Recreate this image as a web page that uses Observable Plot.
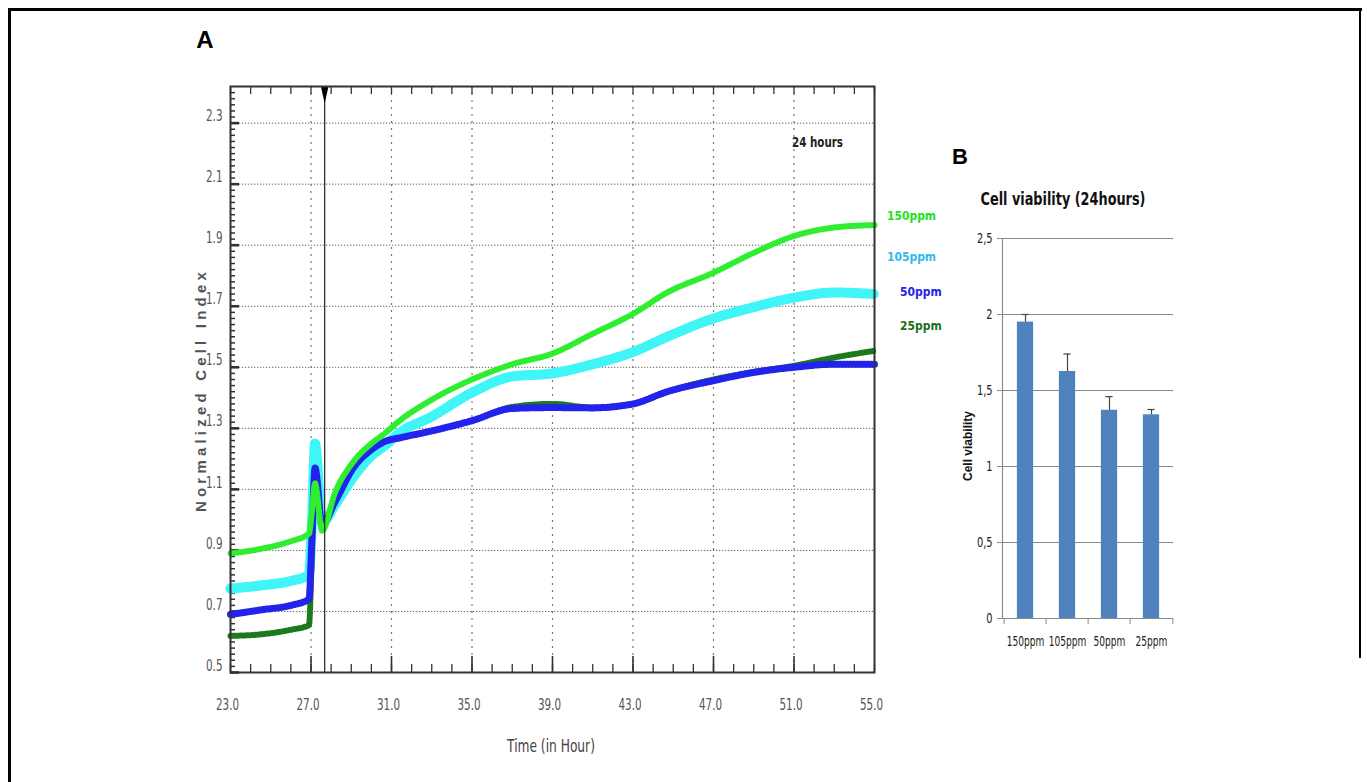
<!DOCTYPE html>
<html>
<head>
<meta charset="utf-8">
<script src="https://cdn.jsdelivr.net/npm/d3@7"></script>
<script src="https://cdn.jsdelivr.net/npm/@observablehq/plot@0.6"></script>
<style>
  body { margin: 0; background: #fff; }
  #root { position: relative; width: 1367px; height: 782px; overflow: hidden; background: #fff;
          font-family: "Liberation Sans", Arial, sans-serif; }
  .lbl { position: absolute; white-space: nowrap; }
  svg.plotsvg { position: absolute; overflow: visible; }
</style>
</head>
<body>
<div id="root"></div>
<script>
// ---------------- Panel A data (Normalized Cell Index vs time) ----------------
const seriesNames = ["150ppm", "105ppm", "50ppm", "25ppm"];
const timeHours = [23.0, 24.5, 26.0, 26.9, 27.05, 27.2, 27.55, 28.2, 29.1, 30.0, 30.6, 31.5, 32.9,
                   35.0, 37.0, 39.0, 41.0, 43.0, 44.7, 47.0, 49.0, 51.0, 53.0, 55.0];
const index150 = [0.89, 0.905, 0.93, 0.955, 1.03, 1.12, 0.965, 1.09, 1.19, 1.25, 1.28, 1.33, 1.39,
                  1.46, 1.51, 1.545, 1.61, 1.675, 1.745, 1.81, 1.875, 1.93, 1.958, 1.966];
const index105 = [0.775, 0.785, 0.80, 0.82, 1.0, 1.25, 0.99, 1.05, 1.14, 1.21, 1.24, 1.29, 1.335,
                  1.417, 1.47, 1.48, 1.51, 1.55, 1.60, 1.66, 1.697, 1.728, 1.745, 1.74];
const index50  = [0.69, 0.705, 0.72, 0.74, 0.95, 1.17, 0.985, 1.06, 1.17, 1.23, 1.255, 1.27, 1.29,
                  1.325, 1.365, 1.368, 1.367, 1.38, 1.42, 1.456, 1.483, 1.50, 1.51, 1.51];
const index25  = [0.62, 0.625, 0.64, 0.655, 0.9, 1.15, 0.985, 1.06, 1.17, 1.23, 1.255, 1.27, 1.29,
                  1.325, 1.37, 1.38, 1.368, 1.38, 1.42, 1.46, 1.485, 1.505, 1.532, 1.554];
const treatmentTime = [27.68];
const xTickLabelsA = [23, 27, 31, 35, 39, 43, 47, 51, 55];
const yTickLabelsA = [0.5, 0.7, 0.9, 1.1, 1.3, 1.5, 1.7, 1.9, 2.1, 2.3];

// ---------------- Panel B data (Cell viability, 24 hours) ----------------
const doses = ["150ppm", "105ppm", "50ppm", "25ppm"];
const viability = [1.95, 1.625, 1.37, 1.34];
const viabilityErr = [0.05, 0.115, 0.09, 0.035];
const yTickLabelsB = [0, 0.5, 1, 1.5, 2, 2.5];

// ---------------- styles ----------------
const lineColors = {"150ppm": "#2fee2f", "105ppm": "#3ff5f5", "50ppm": "#2323ee", "25ppm": "#1c7a1c"};
const legendColors = {"150ppm": "#22e022", "105ppm": "#33b8ee", "50ppm": "#2222ee", "25ppm": "#1b6e1b"};
const lineWidths = {"150ppm": 2.5, "105ppm": 7, "50ppm": 3, "25ppm": 2.5};
const fuzzWidths = {"150ppm": 6, "105ppm": 10, "50ppm": 7, "25ppm": 6};
const drawOrder = ["105ppm", "25ppm", "50ppm", "150ppm"];

const valuesBySeries = {"150ppm": index150, "105ppm": index105, "50ppm": index50, "25ppm": index25};
const rowsA = [];
for (const s of seriesNames) timeHours.forEach((t, j) => rowsA.push({series: s, t, v: valuesBySeries[s][j]}));

const root = document.getElementById("root");
const plotFont = '"Liberation Sans Narrow", "DejaVu Sans Condensed", sans-serif';

function squeeze(svg, selector, sx) {
  svg.querySelectorAll(selector).forEach(t => {
    const tr = t.getAttribute("transform");
    if (tr) t.setAttribute("transform", tr + ` scale(${sx},1)`);
  });
}

// ---------- Panel A plot ----------
const mL = 230, mR = 60, mT = 86, mB = 110, W = 934, H = 782;
const fw = W - mL - mR, fh = H - mT - mB;
const xMinor = d3.range(23, 55.001, 1);
const xMajorInner = xTickLabelsA.slice(1, -1);
const yMinor = d3.range(0.5, 2.42, 0.02);

const narrowTri = {
  draw(ctx) { ctx.moveTo(-3.8, 0); ctx.lineTo(3.8, 0); ctx.lineTo(0, 17); ctx.closePath(); }
};

const lineMarks = [];
for (const s of drawOrder) {
  const data = rowsA.filter(d => d.series === s);
  lineMarks.push(Plot.line(data, {x: "t", y: "v", stroke: lineColors[s], strokeWidth: lineWidths[s], curve: "monotone-x"}));
  lineMarks.push(Plot.line(data, {x: "t", y: "v", stroke: lineColors[s], strokeWidth: fuzzWidths[s],
                                   strokeDasharray: "1.2,2.2", curve: "monotone-x"}));
}

const plotA = Plot.plot({
  width: W, height: H, marginLeft: mL, marginRight: mR, marginTop: mT, marginBottom: mB,
  style: {background: "transparent", overflow: "visible", maxWidth: "none", fontFamily: plotFont},
  x: {domain: [23, 55], label: null},
  y: {domain: [0.5, 2.42], label: null},
  marks: [
    Plot.gridY(yTickLabelsA.slice(1), {stroke: "#555", strokeOpacity: 0.9, strokeDasharray: "1.3,1.7", strokeWidth: 1}),
    Plot.gridX(xMajorInner, {stroke: "#666", strokeOpacity: 0.9, strokeDasharray: "2,5", strokeWidth: 1.2}),
    Plot.ruleX(xMinor, {x: d => d, insetTop: fh - 8, stroke: "#333", strokeWidth: 1.3}),
    Plot.ruleX(xMajorInner, {x: d => d, insetTop: fh - 16, stroke: "#333", strokeWidth: 1.6}),
    Plot.ruleX(xMinor, {x: d => d, insetBottom: fh - 8, stroke: "#333", strokeWidth: 1.3}),
    Plot.ruleY(yMinor, {y: d => d, insetRight: fw - 5, stroke: "#333", strokeWidth: 1.5}),
    Plot.ruleY(yTickLabelsA, {y: d => d, insetRight: fw - 9, stroke: "#333", strokeWidth: 2.6}),
    ...lineMarks,
    Plot.ruleX(treatmentTime, {x: d => d, stroke: "#222", strokeWidth: 1.2}),
    Plot.dot(treatmentTime, {x: d => d, frameAnchor: "top", symbol: narrowTri, fill: "#000", stroke: "none"}),
    Plot.frame({stroke: "#333", strokeWidth: 2}),
    Plot.axisX({ticks: xTickLabelsA, tickFormat: d => d.toFixed(1), tickSize: 0, tickPadding: 26,
                fontSize: 16, fill: "#555", dx: -3}),
    Plot.axisY({ticks: yTickLabelsA, tickFormat: d => d.toFixed(1), tickSize: 0, tickPadding: 8,
                fontSize: 16, fill: "#555", dy: -7})
  ]
});
plotA.classList.add("plotsvg");
plotA.style.left = "0px"; plotA.style.top = "0px";
root.appendChild(plotA);
squeeze(plotA, 'g[aria-label$="tick label"] text', 0.72);

// ---------- Panel B plot ----------
const bW = 260, bH = 470, bL = 72, bR = 17, bT = 38, bB = 52;
const bw = (bW - bL - bR) / doses.length;
const rowsB = doses.map((d, i) => ({dose: d, v: viability[i], up: viability[i] + viabilityErr[i]}));
const bfh = bH - bT - bB;
const plotB = Plot.plot({
  width: bW, height: bH, marginLeft: bL, marginRight: bR, marginTop: bT, marginBottom: bB,
  style: {background: "transparent", overflow: "visible", maxWidth: "none", fontFamily: plotFont},
  x: {domain: doses, padding: 0, label: null},
  y: {domain: [0, 2.5], label: null},
  marks: [
    Plot.gridY(yTickLabelsB.slice(1), {stroke: "#8a8a8a", strokeOpacity: 1, strokeWidth: 1}),
    Plot.barY(rowsB, {x: "dose", y: "v", fill: "#4f81bd", insetLeft: (bw - 17) / 2, insetRight: (bw - 17) / 2}),
    Plot.ruleX(rowsB, {x: "dose", y1: "v", y2: "up", stroke: "#444", strokeWidth: 1.2}),
    Plot.tickY(rowsB, {x: "dose", y: "up", inset: (bw - 8) / 2, stroke: "#444", strokeWidth: 1.2}),
    Plot.ruleY([0], {stroke: "#8a8a8a", strokeWidth: 1.2}),
    Plot.frame({anchor: "left", stroke: "#8a8a8a", strokeWidth: 1.2}),
    Plot.ruleX(doses, {x: d => d, dx: -bw / 2, insetTop: bfh, insetBottom: -6, stroke: "#8a8a8a"}),
    Plot.ruleX(doses.slice(-1), {x: d => d, dx: bw / 2, insetTop: bfh, insetBottom: -6, stroke: "#8a8a8a"}),
    Plot.axisY({ticks: yTickLabelsB, tickFormat: d => String(d).replace(".", ","), tickSize: 5, tickPadding: 5,
                stroke: "#8a8a8a", fill: "#222", fontSize: 14}),
    Plot.axisX({tickSize: 0, tickPadding: 18, fill: "#222", fontSize: 14})
  ]
});
plotB.classList.add("plotsvg");
plotB.style.left = "930px"; plotB.style.top = "200px";
root.appendChild(plotB);
squeeze(plotB, 'g[aria-label="x-axis tick label"] text', 0.72);
squeeze(plotB, 'g[aria-label="y-axis tick label"] text', 0.78);

// ---------- HTML text ----------
function label(text, cx, cy, css, extra) {
  const el = document.createElement("div");
  el.className = "lbl";
  el.textContent = text;
  Object.assign(el.style, css);
  el.style.left = cx + "px"; el.style.top = cy + "px";
  el.style.transform = "translate(-50%,-50%)" + (extra ? " " + extra : "");
  root.appendChild(el);
  return el;
}
function labelLeft(text, x, cy, css, sx) {
  const el = document.createElement("div");
  el.className = "lbl";
  el.textContent = text;
  Object.assign(el.style, css);
  el.style.left = x + "px"; el.style.top = cy + "px";
  el.style.transformOrigin = "left center";
  el.style.transform = "translateY(-50%)" + (sx ? ` scaleX(${sx})` : "");
  root.appendChild(el);
  return el;
}
const condFont = '"DejaVu Sans Condensed", "Liberation Sans Narrow", sans-serif';

// outer page frame
const frame = document.createElement("div");
Object.assign(frame.style, {position: "absolute", left: "8px", top: "8px", width: "1351px", height: "800px",
  borderLeft: "3px solid #000", borderTop: "3px solid #000"});
root.appendChild(frame);
const rightLine = document.createElement("div");
Object.assign(rightLine.style, {position: "absolute", left: "1359px", top: "8px", width: "2px", height: "650px", background: "#000"});
root.appendChild(rightLine);

label("A", 205, 40, {fontSize: "24px", fontWeight: "bold", color: "#000", fontFamily: "Arial, 'Liberation Sans', sans-serif"});
label("B", 960, 157, {fontSize: "22px", fontWeight: "bold", color: "#000", fontFamily: "Arial, 'Liberation Sans', sans-serif"});

label("Normalized Cell Index", 200, 390, {fontSize: "15px", fontWeight: "bold", color: "#555", letterSpacing: "4.2px"}, "rotate(-90deg)");
label("Time (in Hour)", 551, 746, {fontSize: "17px", color: "#444", fontFamily: condFont}, "scaleX(0.8)");

labelLeft("24 hours", 792, 142, {fontSize: "14px", fontWeight: "bold", color: "#222", fontFamily: condFont}, 0.82);

labelLeft("150ppm", 887, 215, {fontSize: "13px", color: legendColors["150ppm"], fontFamily: condFont, fontWeight: "bold"}, 0.92);
labelLeft("105ppm", 887, 256, {fontSize: "13px", color: legendColors["105ppm"], fontFamily: condFont, fontWeight: "bold"}, 0.92);
labelLeft("50ppm", 900, 291, {fontSize: "13px", color: legendColors["50ppm"], fontFamily: condFont, fontWeight: "bold"}, 0.92);
labelLeft("25ppm", 900, 325, {fontSize: "13px", color: legendColors["25ppm"], fontFamily: condFont, fontWeight: "bold"}, 0.92);

label("Cell viability (24hours)", 1063, 199, {fontSize: "17px", fontWeight: "bold", color: "#111", fontFamily: condFont}, "scaleX(0.84)");
label("Cell viability", 968, 446, {fontSize: "12px", fontWeight: "bold", color: "#111"}, "rotate(-90deg)");
</script>
</body>
</html>
